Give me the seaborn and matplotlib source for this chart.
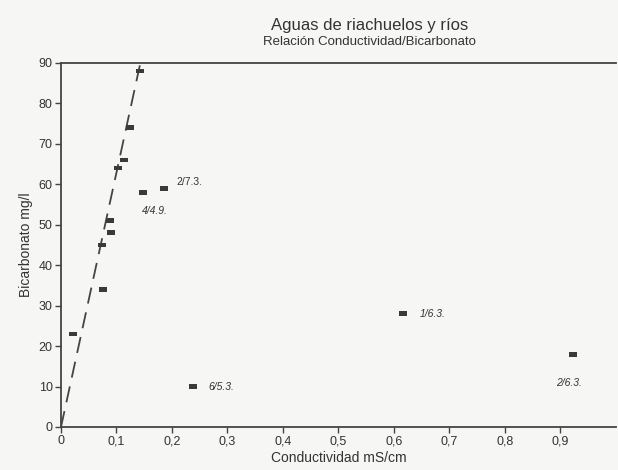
import matplotlib
matplotlib.use("Agg")
import matplotlib.pyplot as plt
import seaborn as sns
import pandas as pd
import numpy as np
from matplotlib.ticker import FuncFormatter

# ---- data ----
conductividad = [0.022, 0.076, 0.074, 0.090, 0.088, 0.103, 0.113, 0.124, 0.142, 0.148, 0.186, 0.238, 0.616, 0.922]
bicarbonato   = [23, 34, 45, 48, 51, 64, 66, 74, 88, 58, 59, 10, 28, 18]
point_labels  = ["", "", "", "", "", "", "", "", "", "4/4.9.", "2/7.3.", "6/5.3.", "1/6.3.", "2/6.3."]
trend_cond = [0.0, 0.143]
trend_bic  = [0.0, 90.0]
x_ticks = [0, 0.1, 0.2, 0.3, 0.4, 0.5, 0.6, 0.7, 0.8, 0.9]
y_ticks = [0, 10, 20, 30, 40, 50, 60, 70, 80, 90]

df = pd.DataFrame({"cond": conductividad, "bic": bicarbonato, "lab": point_labels})
trend = pd.DataFrame({"cond": trend_cond, "bic": trend_bic})

sns.set_style("white")
plt.rcParams["font.family"] = ["Liberation Sans", "DejaVu Sans"]
txt = "#333333"
bg = "#f6f6f4"

fig = plt.figure(figsize=(6.18, 4.70), dpi=100, facecolor=bg)
ax = fig.add_axes([0.0987, 0.0915, 0.898, 0.7745])
ax.set_facecolor(bg)

rect = [(-1, -0.6), (1, -0.6), (1, 0.6), (-1, 0.6), (-1, -0.6)]
sns.lineplot(data=trend, x="cond", y="bic", ax=ax, color="#444444", lw=1.3,
             dashes=False, linestyle=(0, (9, 5)))
sns.scatterplot(data=df, x="cond", y="bic", ax=ax, marker=rect, s=32,
                color="#3a3a3a", edgecolor="none", zorder=3)

offsets = {"4/4.9.": (-1, -17, "left", "italic"), "2/7.3.": (9, 1, "left", "normal"),
           "6/5.3.": (11, -4, "left", "italic"), "1/6.3.": (12, -4, "left", "italic"),
           "2/6.3.": (-12, -24, "left", "italic")}
for _, r in df.iterrows():
    if r["lab"]:
        dx, dy, ha, st = offsets[r["lab"]]
        ax.annotate(r["lab"], (r["cond"], r["bic"]), xytext=(dx, dy),
                    textcoords="offset points", fontsize=7.5, style=st,
                    color=txt, ha=ha, va="bottom")

ax.set_xlim(0, 1.0)
ax.set_ylim(0, 90)
ax.set_xticks(x_ticks)
ax.set_yticks(y_ticks)
ax.xaxis.set_major_formatter(FuncFormatter(lambda v, p: "0" if v == 0 else f"{v:.1f}".replace(".", ",")))
ax.tick_params(axis="both", direction="out", length=4, width=1, colors="#444444",
               labelsize=9, labelcolor=txt, left=True, bottom=True, pad=2)
for s in ["left", "bottom", "top"]:
    ax.spines[s].set_color("#444444")
    ax.spines[s].set_linewidth(1.3)
ax.spines["right"].set_visible(False)

ax.set_xlabel("Conductividad mS/cm", fontsize=10, color=txt, labelpad=3)
ax.set_ylabel("Bicarbonato mg/l", fontsize=10, color=txt, labelpad=4)

fig.text(0.598, 0.945, "Aguas de riachuelos y ríos", ha="center", va="center", fontsize=12, color=txt)
fig.text(0.598, 0.91, "Relación Conductividad/Bicarbonato", ha="center", va="center", fontsize=9.5, color=txt)

fig.savefig("out.png", dpi=100, facecolor=bg)
